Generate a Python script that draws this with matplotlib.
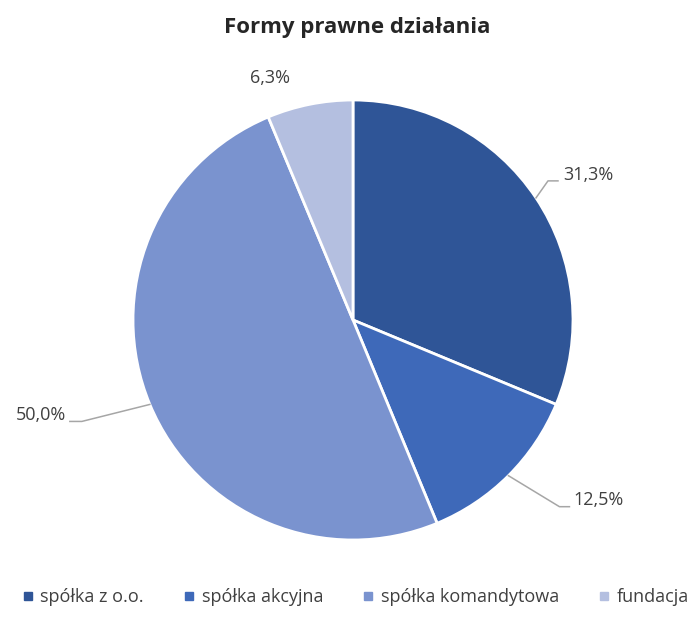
import numpy as np
import matplotlib.pyplot as plt
from matplotlib.lines import Line2D

plt.rcParams['font.family'] = ['Open Sans', 'DejaVu Sans']

categories = ["spółka z o.o.", "spółka akcyjna", "spółka komandytowa", "fundacja"]
shares = [31.3, 12.5, 50.0, 6.3]
labels = ["31,3%", "12,5%", "50,0%", "6,3%"]
colors = ["#2F5597", "#3E69B9", "#7A93CF", "#B4BFE0"]

# label offsets from wedge edge, in pixels (dx, dy up): elbow, line end, text anchor
label_layout = [
    dict(elbow=(12, 17), end=(22, 17), text=(27, 23), ha="left"),
    dict(elbow=(51, -31), end=(61, -31), text=(65, -24), ha="left"),
    dict(elbow=(-68, -17), end=(-80, -17), text=(-84, -11), ha="right"),
    dict(elbow=None, end=None, text=(-40, 26), ha="center"),
]

W, H = 691, 634
R = 220
cx, cy = 353, 320

fig = plt.figure(figsize=(W / 100, H / 100), dpi=100)
ax = fig.add_axes([(cx - R) / W, (H - cy - R) / H, 2 * R / W, 2 * R / H])

wedges, _ = ax.pie(shares, colors=colors, startangle=90, counterclock=False,
                   radius=1, wedgeprops=dict(edgecolor="white", linewidth=2))
ax.set_xlim(-1, 1)
ax.set_ylim(-1, 1)
ax.set_aspect("equal")
ax.axis("off")

px = 1.0 / R
for w, lab, lay in zip(wedges, labels, label_layout):
    ang = np.deg2rad((w.theta1 + w.theta2) / 2)
    ex, ey = np.cos(ang), np.sin(ang)
    if lay["elbow"] is not None:
        xs = [ex, ex + lay["elbow"][0] * px, ex + lay["end"][0] * px]
        ys = [ey, ey + lay["elbow"][1] * px, ey + lay["end"][1] * px]
        ax.plot(xs, ys, color="#A6A6A6", lw=1.1, clip_on=False)
    ax.text(ex + lay["text"][0] * px, ey + lay["text"][1] * px, lab,
            ha=lay["ha"], va="center", fontsize=13, color="#404040",
            clip_on=False)

fig.text(357 / W, 1 - 27 / H, "Formy prawne działania", ha="center", va="center",
         fontsize=16, fontweight="bold", color="#262626")

handles = [Line2D([], [], marker="s", linestyle="", markersize=5.5,
                  markerfacecolor=c, markeredgecolor=c) for c in colors]
fig.legend(handles, categories, loc="center", bbox_to_anchor=(0.515, 1 - 597 / H),
           ncol=4, frameon=False, fontsize=13, labelcolor="#404040",
           handlelength=0.6, handletextpad=0.4, columnspacing=2.2)

fig.savefig("out.png", dpi=100)
